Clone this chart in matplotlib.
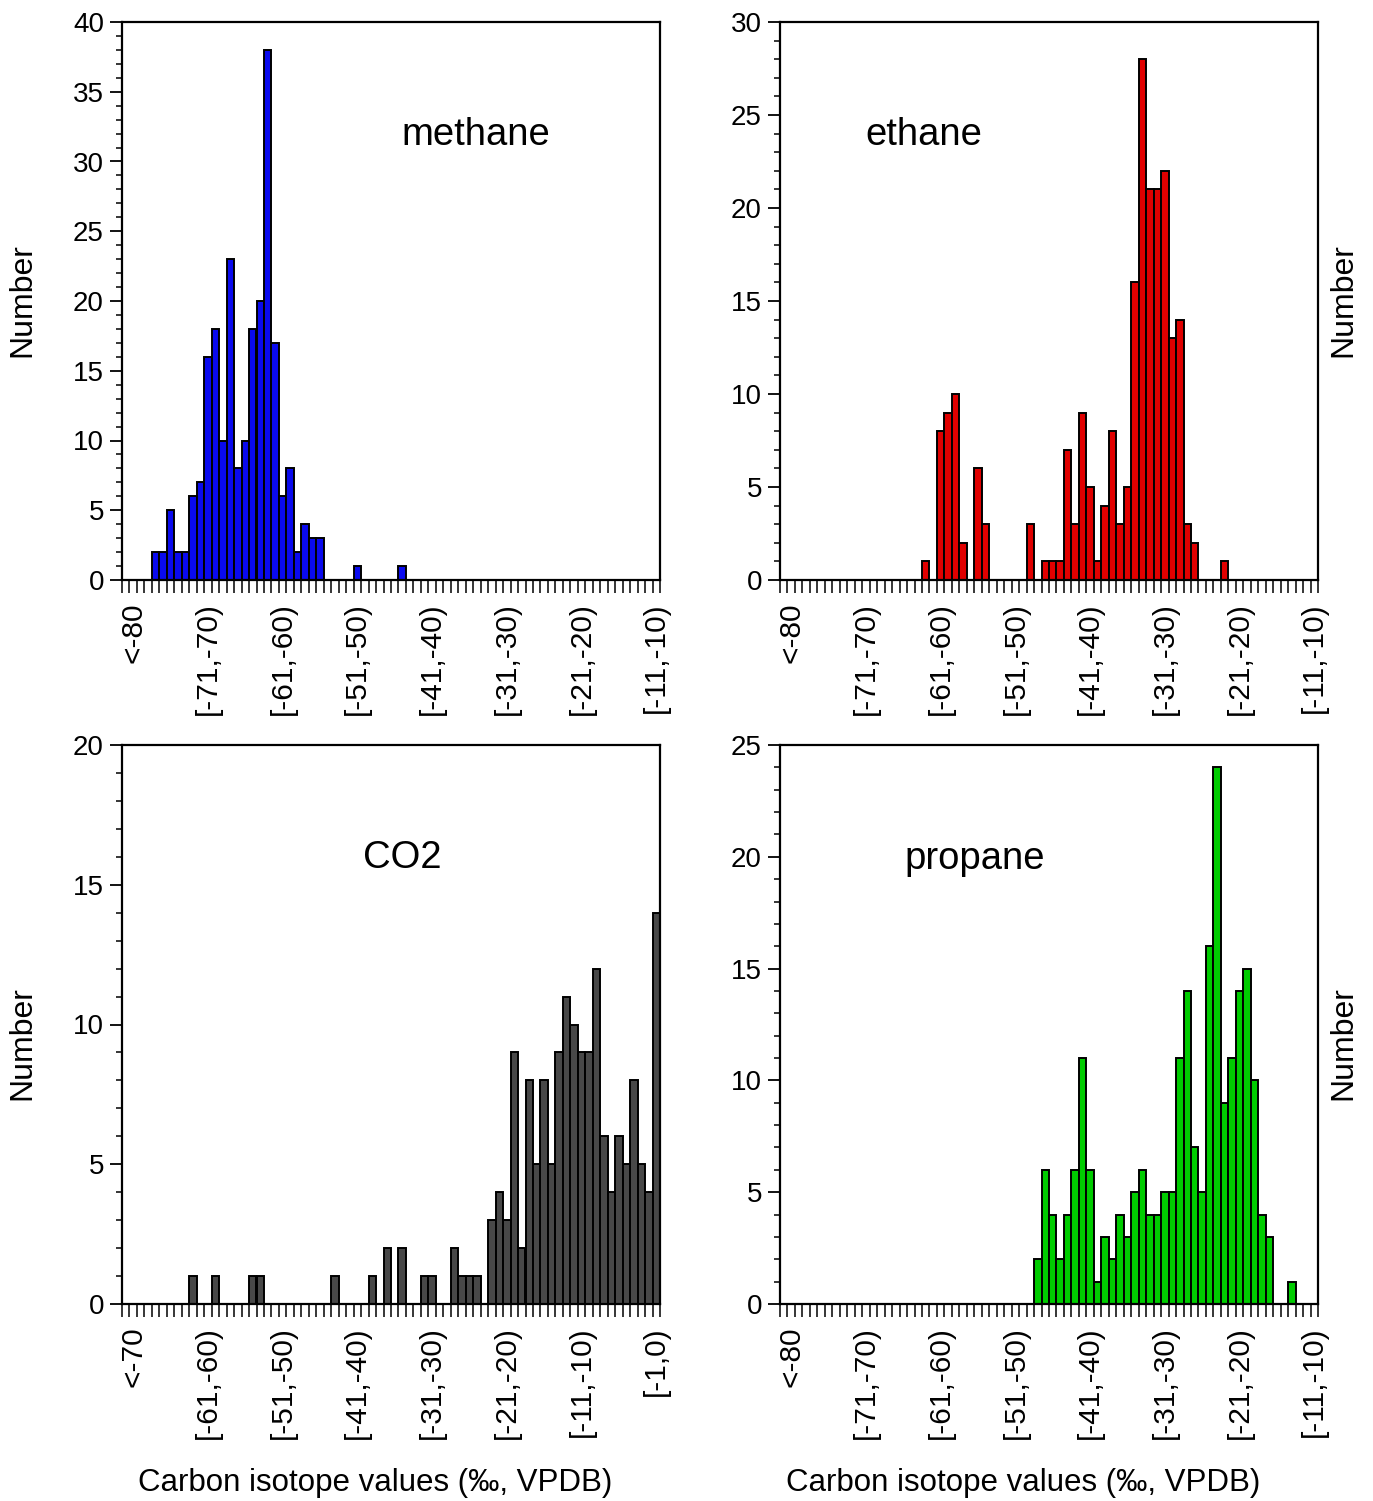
import numpy as np
import matplotlib
matplotlib.use("Agg")
import matplotlib.pyplot as plt
from matplotlib.ticker import MultipleLocator, FixedLocator

plt.rcParams['font.family'] = ['Liberation Sans', 'DejaVu Sans']

# counts per 1 permil bin, index 0 = "<-80" (or "<-70" for CO2), index 70 = last bin
methane = [0, 0, 0, 2, 2, 5, 2, 2, 6, 7,
           16, 18, 10, 23, 8, 10, 18, 20, 38, 17,
           6, 8, 2, 4, 3, 3, 0, 0, 0, 0,
           1, 0, 0, 0, 0, 0, 1, 0, 0, 0,
           0, 0, 0, 0, 0, 0, 0, 0, 0, 0,
           0, 0, 0, 0, 0, 0, 0, 0, 0, 0,
           0, 0, 0, 0, 0, 0, 0, 0, 0, 0,
           0]
ethane = [0, 0, 0, 0, 0, 0, 0, 0, 0, 0,
          0, 0, 0, 0, 0, 0, 0, 0, 1, 0,
          8, 9, 10, 2, 0, 6, 3, 0, 0, 0,
          0, 0, 3, 0, 1, 1, 1, 7, 3, 9,
          5, 1, 4, 8, 3, 5, 16, 28, 21, 21,
          22, 13, 14, 3, 2, 0, 0, 0, 1, 0,
          0, 0, 0, 0, 0, 0, 0, 0, 0, 0,
          0]
co2 = [0, 0, 0, 0, 0, 0, 0, 0, 1, 0,
       0, 1, 0, 0, 0, 0, 1, 1, 0, 0,
       0, 0, 0, 0, 0, 0, 0, 1, 0, 0,
       0, 0, 1, 0, 2, 0, 2, 0, 0, 1,
       1, 0, 0, 2, 1, 1, 1, 0, 3, 4,
       3, 9, 2, 8, 5, 8, 5, 9, 11, 10,
       9, 9, 12, 6, 4, 6, 5, 8, 5, 4,
       14]
propane = [0, 0, 0, 0, 0, 0, 0, 0, 0, 0,
           0, 0, 0, 0, 0, 0, 0, 0, 0, 0,
           0, 0, 0, 0, 0, 0, 0, 0, 0, 0,
           0, 0, 0, 2, 6, 4, 2, 4, 6, 11,
           6, 1, 3, 2, 4, 3, 5, 6, 4, 4,
           5, 5, 11, 14, 7, 5, 16, 24, 9, 11,
           14, 15, 10, 4, 3, 0, 0, 1, 0, 0,
           0]

labels_80 = ['<-80', '[-71,-70)', '[-61,-60)', '[-51,-50)',
             '[-41,-40)', '[-31,-30)', '[-21,-20)', '[-11,-10)']
labels_70 = ['<-70', '[-61,-60)', '[-51,-50)', '[-41,-40)',
             '[-31,-30)', '[-21,-20)', '[-11,-10)', '[-1,0)']

W, H = 1373, 1501
fig = plt.figure(figsize=(W / 100, H / 100), dpi=100)


def panel(box, counts, color, ymax, name, name_xy, xlabels):
    l, r, t, b = box
    ax = fig.add_axes([l / W, 1 - b / H, (r - l) / W, (b - t) / H])
    x = np.arange(len(counts))
    ax.bar(x, counts, width=1.0, color=color, edgecolor='black', linewidth=1.4)
    ax.set_xlim(-1.5, 70.5)
    ax.set_ylim(0, ymax)
    ax.yaxis.set_major_locator(MultipleLocator(5))
    ax.yaxis.set_minor_locator(MultipleLocator(1))
    ax.xaxis.set_major_locator(FixedLocator(np.arange(0, 71, 10)))
    ax.set_xticklabels(xlabels, rotation=90)
    ax.xaxis.set_minor_locator(FixedLocator(np.arange(-1.5, 71, 1)))
    ax.tick_params(axis='y', which='major', direction='out', length=9,
                   width=1.3, labelsize=20, pad=4)
    ax.tick_params(axis='y', which='minor', direction='out', length=4.5,
                   width=1.1)
    ax.tick_params(axis='x', which='major', length=0, labelsize=21.5, pad=16)
    ax.tick_params(axis='x', which='minor', direction='out', length=9,
                   width=1.1)
    for s in ax.spines.values():
        s.set_linewidth(1.6)
    ax.text(name_xy[0], name_xy[1], name, transform=ax.transAxes,
            ha='center', va='center', fontsize=27.5)
    return ax


panel((122, 660, 22, 580), methane, '#0a0aee', 40, 'methane', (0.658, 0.798), labels_80)
panel((780, 1318, 22, 580), ethane, '#e00000', 30, 'ethane', (0.268, 0.798), labels_80)
panel((122, 660, 745, 1304), co2, '#484848', 20, 'CO2', (0.52, 0.798), labels_70)
panel((780, 1318, 745, 1304), propane, '#00cc00', 25, 'propane', (0.362, 0.796), labels_80)

for xp, yp in [(22, 300), (1343, 300), (22, 1043), (1343, 1043)]:
    fig.text(xp / W, 1 - yp / H, 'Number', rotation=90,
             ha='center', va='center', fontsize=23)
for xp in [375, 1023]:
    fig.text(xp / W, 1 - 1483 / H, 'Carbon isotope values (‰, VPDB)',
             ha='center', va='center', fontsize=22.5)

fig.savefig('out.png', dpi=100)
